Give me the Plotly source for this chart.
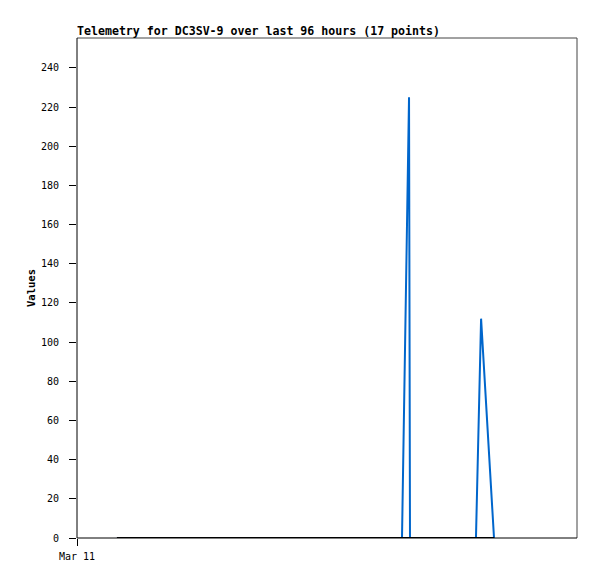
import plotly.graph_objects as go

# Data: timestamps (Mar 11 start) and telemetry values
times = [
    "2024-03-11 07:40", "2024-03-11 14:00", "2024-03-11 22:00",
    "2024-03-12 06:00", "2024-03-12 14:00", "2024-03-12 22:00",
    "2024-03-13 04:00", "2024-03-13 10:00", "2024-03-13 14:24",
    "2024-03-13 15:45", "2024-03-13 15:56", "2024-03-13 20:00",
    "2024-03-14 00:00", "2024-03-14 04:36", "2024-03-14 05:35",
    "2024-03-14 06:50", "2024-03-14 08:04",
]
ch1_values = [0, 0, 0, 0, 0, 0, 0, 0, 0, 225, 0, 0, 0, 0, 112, 56, 0]
ch2_values = [0] * 17

x_start = "2024-03-11 00:00"
x_end = "2024-03-15 00:00"
x_tick_vals = ["2024-03-11 00:00"]
x_tick_text = ["Mar 11"]
y_tick_vals = list(range(0, 241, 20))

mono = "DejaVu Sans Mono"

fig = go.Figure()
fig.add_trace(go.Scatter(x=times, y=ch1_values, mode="lines",
                         line=dict(color="#0066cc", width=2), showlegend=False))
fig.add_trace(go.Scatter(x=times, y=ch2_values, mode="lines",
                         line=dict(color="#000000", width=2), showlegend=False))

fig.update_layout(
    width=597, height=579,
    margin=dict(l=77, r=20, t=38, b=41),
    paper_bgcolor="white", plot_bgcolor="white",
    font=dict(family=mono, size=10, color="#000"),
    title=dict(text="<b>Telemetry for DC3SV-9 over last 96 hours (17 points)</b>",
               x=77/597, xref="container", xanchor="left",
               y=1 - 31/579, yref="container", yanchor="middle",
               font=dict(family=mono, size=11.6, color="#000")),
    xaxis=dict(range=[x_start, x_end], type="date", automargin=False,
               tickmode="array", tickvals=x_tick_vals, ticktext=x_tick_text,
               ticks="outside", ticklen=7, tickcolor="#000",
               showgrid=False, zeroline=False,
               showline=False, mirror=False, ticklabelstandoff=2,
               tickfont=dict(family=mono, size=10)),
    yaxis=dict(range=[0, 255.3], tickmode="array", tickvals=y_tick_vals,
               automargin=False,
               ticks="outside", ticklen=7, tickcolor="#000",
               showgrid=False, zeroline=False,
               showline=False, ticklabelstandoff=8,
               title=dict(text="<b>Values</b>", font=dict(family=mono, size=10.5), standoff=3),
               tickfont=dict(family=mono, size=10)),
    shapes=[
        dict(type="line", xref="paper", yref="paper", x0=0, x1=1, y0=1, y1=1,
             line=dict(color="#444", width=1)),
        dict(type="line", xref="paper", yref="paper", x0=1, x1=1, y0=0, y1=1,
             line=dict(color="#444", width=1)),
        dict(type="line", xref="paper", yref="paper", x0=0, x1=0, y0=0, y1=1,
             line=dict(color="#000", width=1)),
        dict(type="line", xref="paper", yref="paper", x0=0, x1=1, y0=0, y1=0,
             line=dict(color="#000", width=1)),
    ],
)

fig.write_html("out.html", config={"displayModeBar": False},
               post_script="document.body.style.margin='0';document.body.style.padding='0';")
